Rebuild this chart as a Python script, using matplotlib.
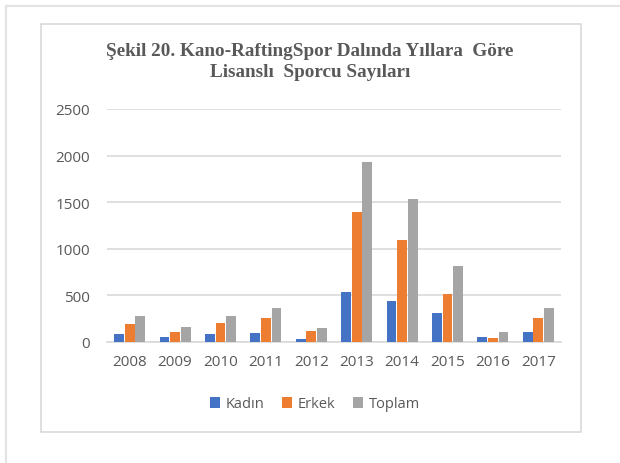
import matplotlib
matplotlib.use('Agg')
import matplotlib.pyplot as plt
import numpy as np
from matplotlib.patches import Rectangle
from matplotlib.lines import Line2D

# Data
years = ['2008', '2009', '2010', '2011', '2012', '2013', '2014', '2015', '2016', '2017']
kadin = [90, 50, 90, 100, 35, 540, 440, 310, 55, 105]
erkek = [190, 110, 200, 260, 120, 1390, 1090, 510, 45, 260]
toplam = [280, 160, 280, 360, 155, 1930, 1530, 820, 105, 365]

series_names = ['Kadın', 'Erkek', 'Toplam']
colors = ['#4472C4', '#ED7D31', '#A5A5A5']
text_grey = '#595959'

W, H = 620, 464
fig = plt.figure(figsize=(W / 100, H / 100), dpi=100)

# Page edge lines and chart border (pixel coords -> figure fraction)
def fx(px):
    return px / W

def fy(py):
    return 1 - py / H

fig.add_artist(Line2D([fx(6), fx(6)], [fy(7), fy(464)], color='#E3E3E3', lw=1.5))
fig.add_artist(Line2D([fx(6), fx(620)], [fy(7), fy(7)], color='#E3E3E3', lw=1.5))
fig.add_artist(Rectangle((fx(41), fy(433)), fx(581) - fx(41), fy(25) - fy(433),
                         fill=False, edgecolor='#D9D9D9', lw=1.2))

# Plot area
ax = fig.add_axes([fx(107), fy(343), fx(561) - fx(107), fy(110) - fy(343)])
x = np.arange(len(years))
bw = 0.215
for i, (vals, name, c) in enumerate(zip([kadin, erkek, toplam], series_names, colors)):
    ax.bar(x + (i - 1) * (bw + 0.02), vals, width=bw, color=c, label=name, zorder=3)

ax.set_xlim(-0.5, len(years) - 0.5)
ax.set_ylim(0, 2500)
ax.set_yticks([0, 500, 1000, 1500, 2000, 2500])
ax.set_xticks(x)
ax.set_xticklabels(years)
ax.grid(axis='y', color='#D9D9D9', lw=1.2, zorder=0)
for s in ['top', 'right', 'left']:
    ax.spines[s].set_visible(False)
ax.spines['bottom'].set_color('#D9D9D9')
ax.spines['bottom'].set_linewidth(1.2)
ax.tick_params(axis='both', length=0, labelsize=11, labelcolor=text_grey)
ax.tick_params(axis='y', pad=12)
ax.tick_params(axis='x', pad=9)
for lab in ax.get_xticklabels() + ax.get_yticklabels():
    lab.set_family('Open Sans')

# Title
fig.text(fx(310), fy(62), 'Şekil 20. Kano-RaftingSpor Dalında Yıllara  Göre\nLisanslı  Sporcu Sayıları',
         ha='center', va='center', fontsize=13.8, fontweight='bold',
         family='Liberation Serif', color=text_grey, linespacing=1.38)

# Legend
leg = fig.legend(loc='center', bbox_to_anchor=(fx(315), fy(405)), ncol=3, frameon=False,
                 handlelength=0.7, handleheight=0.7, handletextpad=0.4, columnspacing=1.2,
                 prop={'family': 'Open Sans', 'size': 10.5})
for t in leg.get_texts():
    t.set_color(text_grey)

fig.savefig('out.png', dpi=100)
